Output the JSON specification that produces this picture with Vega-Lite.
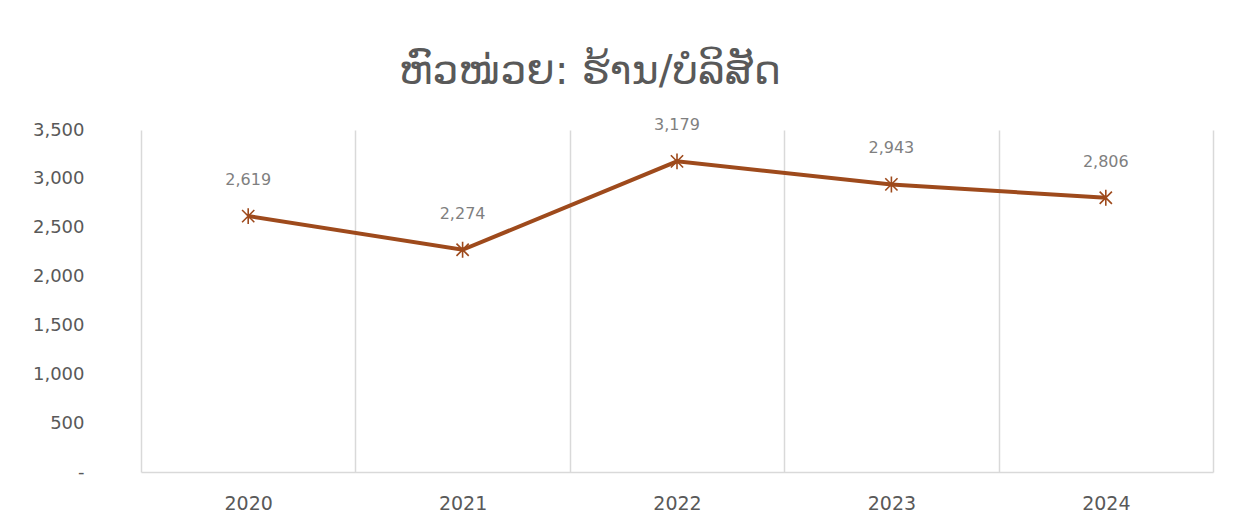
{
  "$schema": "https://vega.github.io/schema/vega-lite/v6.json",
  "autosize": {"type": "none"},
  "width": 1072,
  "height": 342,
  "padding": {"left": 141, "top": 130, "right": 28, "bottom": 46},
  "background": "white",
  "title": {
    "text": "ຫົວໜ່ວຍ: ຮ້ານ/ບໍລິສັດ",
    "font": "DejaVu Sans",
    "fontSize": 41,
    "fontWeight": "normal",
    "color": "#595959",
    "anchor": "middle",
    "frame": "group",
    "dx": -87,
    "offset": 24
  },
  "data": {
    "values": [
      {"year": 2020, "value": 2619},
      {"year": 2021, "value": 2274},
      {"year": 2022, "value": 3179},
      {"year": 2023, "value": 2943},
      {"year": 2024, "value": 2806}
    ]
  },
  "config": {
    "view": {"stroke": null},
    "font": "DejaVu Sans"
  },
  "encoding": {
    "x": {
      "field": "year",
      "type": "quantitative",
      "scale": {"domain": [2019.5, 2024.5], "nice": false, "zero": false},
      "axis": {
        "title": null,
        "values": [2019.5, 2020, 2020.5, 2021, 2021.5, 2022, 2022.5, 2023, 2023.5, 2024, 2024.5],
        "labelExpr": "datum.value % 1 == 0 ? '' + datum.value : ''",
        "tickSize": 0,
        "ticks": false,
        "domainColor": "#d9d9d9",
        "domainWidth": 1.5,
        "grid": true,
        "gridColor": "#d9d9d9",
        "gridWidth": 1.5,
        "gridOpacity": {"condition": {"test": "datum.value % 1 == 0", "value": 0}, "value": 1},
        "labelFont": "DejaVu Sans",
        "labelFontSize": 19,
        "labelColor": "#595959",
        "labelPadding": 22,
        "labelFlush": false,
        "labelOverlap": false
      }
    },
    "y": {
      "field": "value",
      "type": "quantitative",
      "scale": {"domain": [0, 3500], "nice": false},
      "axis": {
        "title": null,
        "values": [0, 500, 1000, 1500, 2000, 2500, 3000, 3500],
        "labelExpr": "datum.value == 0 ? '-' : format(datum.value, ',')",
        "ticks": false,
        "domain": false,
        "grid": false,
        "labelFont": "DejaVu Sans",
        "labelFontSize": 18,
        "labelColor": "#595959",
        "labelPadding": 57
      }
    }
  },
  "layer": [
    {
      "mark": {"type": "line", "color": "#9E4A1C", "strokeWidth": 4}
    },
    {
      "mark": {
        "type": "point",
        "shape": "M-1,-1L1,1M-1,1L1,-1M0,-1.3L0,1.3",
        "filled": false,
        "stroke": "#9E4A1C",
        "strokeWidth": 1.6,
        "size": 150,
        "opacity": 1
      }
    },
    {
      "mark": {
        "type": "text",
        "dy": -36,
        "fontSize": 16,
        "color": "#7f7f7f",
        "font": "DejaVu Sans"
      },
      "encoding": {
        "text": {"field": "value", "type": "quantitative", "format": ","}
      }
    }
  ]
}
